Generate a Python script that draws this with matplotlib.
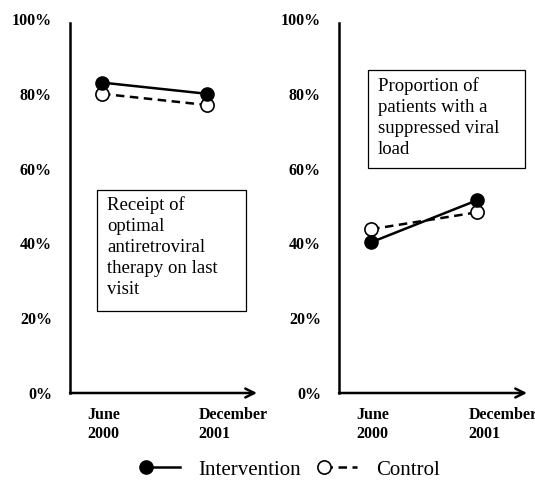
import matplotlib
matplotlib.use("Agg")
import matplotlib.pyplot as plt
from matplotlib.lines import Line2D
from matplotlib.patches import Rectangle
from matplotlib.legend_handler import HandlerLine2D

plt.rcParams['font.family'] = ['Liberation Serif', 'DejaVu Serif']

periods = ["June\n2000", "December\n2001"]
yticks = [0, 20, 40, 60, 80, 100]
ytick_labels = ["0%", "20%", "40%", "60%", "80%", "100%"]

art_intervention = [83, 80]
art_control = [80, 77]
viral_intervention = [40.3, 51.5]
viral_control = [43.8, 48.3]

titles = ["Receipt of\noptimal\nantiretroviral\ntherapy on last\nvisit",
          "Proportion of\npatients with a\nsuppressed viral\nload"]

W, H = 535, 484
fig = plt.figure(figsize=(W / 100, H / 100), dpi=100)

def make_axes(x0, x1):
    return fig.add_axes([x0 / W, 1 - 393 / H, (x1 - x0) / W, 374 / H])

axL = make_axes(70, 257)
axR = make_axes(339, 527)

panels = [
    (axL, art_intervention, art_control, titles[0], (0.144, 0.219, 0.797, 0.324), (0.198, 0.527)),
    (axR, viral_intervention, viral_control, titles[1], (0.154, 0.602, 0.835, 0.262), (0.207, 0.845)),
]

DASH = (0, (3.4, 2.2))
LW = 1.8
label_offsets = [-0.14, -0.08]
xs = list(range(len(periods)))
for ax, inter, ctrl, title, box, tpos in panels:
    ax.plot(xs, ctrl, color='black', lw=LW, ls=DASH, marker='o', ms=9.5,
            mfc='white', mec='black', mew=1.2, zorder=3)
    ax.plot(xs, inter, color='black', lw=LW, ls='-', marker='o', ms=9.5,
            mfc='black', mec='black', zorder=4)
    ax.set_xlim(-32 / 105, (187 - 32) / 105)
    ax.set_ylim(0, 100)
    ax.set_yticks(yticks)
    ax.set_yticklabels(ytick_labels, fontweight='bold', fontsize=11.5)
    ax.tick_params(axis='y', length=0, pad=13)
    ax.set_xticks([])
    for s in ['top', 'right', 'bottom']:
        ax.spines[s].set_visible(False)
    ax.spines['left'].set_linewidth(1.8)
    ax.spines['left'].set_bounds(0, 99)
    ax.annotate('', xy=(1.0, 0), xytext=(0, 0), xycoords='axes fraction',
                arrowprops=dict(arrowstyle='->', lw=1.8, color='black',
                                mutation_scale=16, shrinkA=0, shrinkB=0))
    for i, lab in enumerate(periods):
        ax.text(i + label_offsets[i], -0.037, lab, ha='left', va='top',
                fontweight='bold', fontsize=11.5, linespacing=1.28,
                transform=ax.get_xaxis_transform(), clip_on=False)
    bx, by, bw, bh = box
    ax.add_patch(Rectangle((bx, by), bw, bh, transform=ax.transAxes,
                           facecolor='white', edgecolor='black', lw=0.9, zorder=2))
    ax.text(tpos[0], tpos[1], title, transform=ax.transAxes, ha='left', va='top',
            fontsize=13.5, linespacing=1.32, zorder=5)


class MarkerFirst(HandlerLine2D):
    def create_artists(self, legend, orig_handle, xdescent, ydescent,
                       width, height, fontsize, trans):
        arts = super().create_artists(legend, orig_handle, xdescent, ydescent,
                                      width, height, fontsize, trans)
        for a in arts:
            a.set_markevery([0])
        return arts


h_int = Line2D([], [], color='black', lw=LW, marker='o', ms=9.5, mfc='black',
               mec='black')
h_ctl = Line2D([], [], color='black', lw=LW, ls=DASH, marker='o', ms=9.5,
               mfc='white', mec='black', mew=1.2)
fig.legend([h_int, h_ctl], ["Intervention", "Control"], loc='center',
           bbox_to_anchor=(290 / W, 1 - 470 / H), ncol=2, frameon=False,
           numpoints=2, handlelength=2.2, handletextpad=0.6, columnspacing=0.8,
           fontsize=15, handler_map={Line2D: MarkerFirst()})

fig.savefig("out.png", dpi=100)
